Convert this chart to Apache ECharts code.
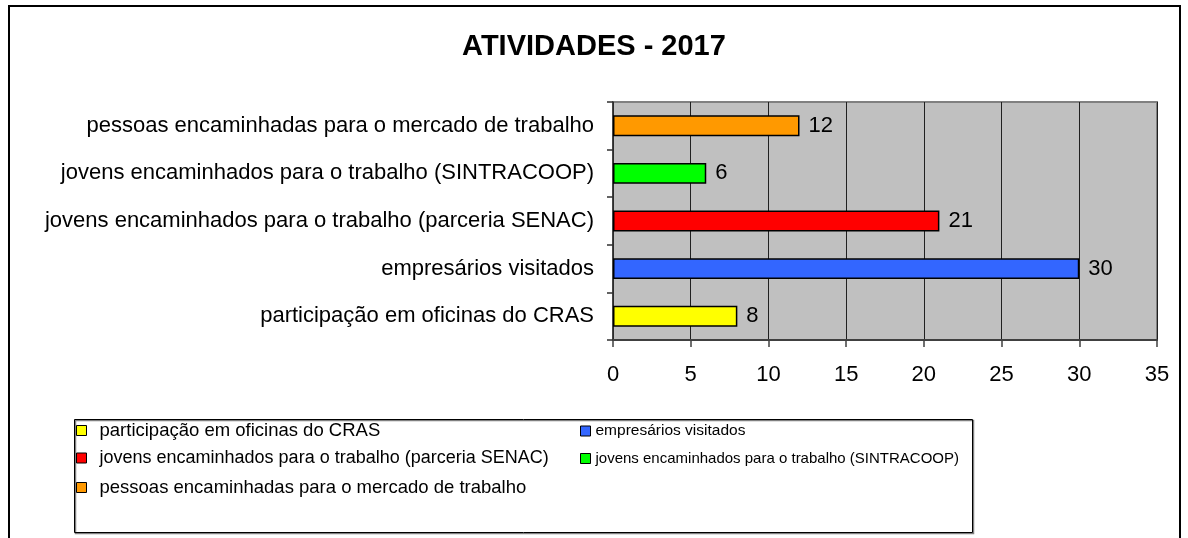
<!DOCTYPE html>
<html>
<head>
<meta charset="utf-8">
<script src="https://cdn.jsdelivr.net/npm/echarts@6/dist/echarts.min.js"></script>
<style>
html,body{margin:0;padding:0;background:#fff;}
#chart{width:1188px;height:538px;}
</style>
</head>
<body>
<div id="chart"></div>
<script>
const categories = [
  'participação em oficinas do CRAS',
  'empresários visitados',
  'jovens encaminhados para o trabalho (parceria SENAC)',
  'jovens encaminhados para o trabalho (SINTRACOOP)',
  'pessoas encaminhadas para o mercado de trabalho'
];
const values = [8, 30, 21, 6, 12];
const colors = ['#ffff00', '#3366ff', '#ff0000', '#00ff00', '#ff9900'];
const xTicks = [0, 5, 10, 15, 20, 25, 30, 35];
const titleText = 'ATIVIDADES - 2017';

const FONT = '"Liberation Sans", Arial, sans-serif';

const series = categories.map((name, i) => ({
  name: name,
  type: 'bar',
  stack: 'all',
  barWidth: '44%',
  data: categories.map((c, j) => (j === i ? values[i] : '-')),
  itemStyle: { color: colors[i], borderColor: '#000', borderWidth: 1.5 },
  label: {
    show: true, position: 'right', distance: 9,
    color: '#000', fontSize: 22, fontFamily: FONT
  }
}));

// legend layout: two columns, three rows
const legendPos = [
  { left: 76, top: 421, pad: 8, size: 18.5 },
  { left: 580, top: 423, pad: 0, size: 15.5 },
  { left: 76, top: 449, pad: 8, size: 18 },
  { left: 580, top: 451, pad: 0, size: 15 },
  { left: 76, top: 478, pad: 8, size: 18.5 }
];
const legends = categories.map((name, i) => ({
  data: [name],
  left: legendPos[i].left,
  top: legendPos[i].top,
  padding: 0,
  itemWidth: 10,
  itemHeight: 10,
  icon: 'rect',
  itemStyle: { borderColor: '#000', borderWidth: 1 },
  textStyle: { fontSize: legendPos[i].size, fontFamily: FONT, color: '#000', padding: [0, 0, 0, legendPos[i].pad] },
  selectedMode: false
}));

const chart = echarts.init(document.getElementById('chart'), null, { renderer: 'canvas' });
chart.setOption({
  backgroundColor: '#fff',
  animation: false,
  title: {
    text: titleText,
    left: 'center',
    top: 32,
    padding: 0,
    textStyle: { fontSize: 29, fontWeight: 'bold', fontFamily: FONT, color: '#000' }
  },
  legend: legends,
  grid: {
    left: 613, top: 102, right: 31, bottom: 198,
    show: true, backgroundColor: '#c0c0c0', borderColor: '#808080', borderWidth: 2
  },
  xAxis: {
    type: 'value',
    min: xTicks[0],
    max: xTicks[xTicks.length - 1],
    interval: xTicks[1] - xTicks[0],
    axisLine: { show: true, lineStyle: { color: '#404040', width: 2 } },
    axisTick: { show: true, length: 7, lineStyle: { color: '#404040', width: 1.5 } },
    axisLabel: { fontSize: 22, fontFamily: FONT, color: '#000', margin: 24 },
    splitLine: { show: true, lineStyle: { color: '#202020', width: 1 } }
  },
  yAxis: {
    type: 'category',
    data: categories,
    axisLine: { show: true, lineStyle: { color: '#303030', width: 1.5 } },
    axisTick: { show: true, length: 6, lineStyle: { color: '#303030', width: 1.5 } },
    axisLabel: { fontSize: 22, fontFamily: FONT, color: '#000', margin: 19 }
  },
  graphic: [
    {
      type: 'rect', silent: true, z: -10,
      shape: { x: 9, y: 6, width: 1171, height: 600 },
      style: { fill: null, stroke: '#000', lineWidth: 2 }
    },
    {
      type: 'rect', silent: true,
      shape: { x: 75.5, y: 420.5, width: 898, height: 113 },
      style: { fill: null, stroke: '#808080', lineWidth: 1.5 }
    },
    {
      type: 'rect', silent: true,
      shape: { x: 74.5, y: 419.5, width: 898, height: 113 },
      style: { fill: null, stroke: '#000', lineWidth: 1 }
    }
  ],
  series: series
});
</script>
</body>
</html>
